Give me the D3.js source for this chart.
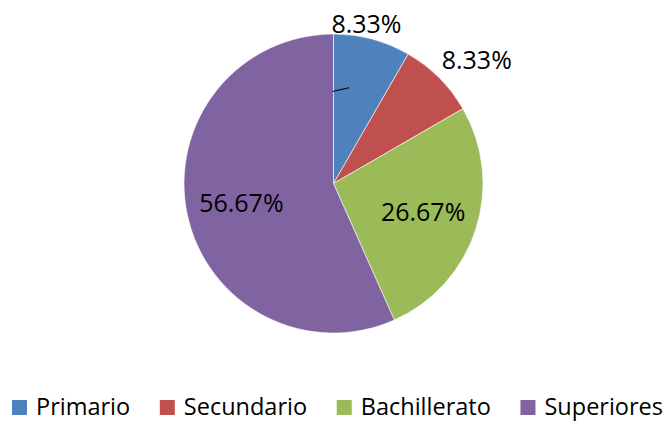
<!DOCTYPE html>
<html>
<head>
<meta charset="utf-8">
<script src="https://cdn.jsdelivr.net/npm/d3@7"></script>
<style>
  body { margin: 0; background: #fff; }
  svg { display: block; font-family: "Open Sans", sans-serif; }
</style>
</head>
<body>
<svg id="chart" width="667" height="421"></svg>
<script>
// data
const categories = ["Primario", "Secundario", "Bachillerato", "Superiores"];
const values = [8.33, 8.33, 26.67, 56.67];
const labels = ["8.33%", "8.33%", "26.67%", "56.67%"];
const colors = ["#4F81BD", "#C0504D", "#9BBB59", "#8064A2"];

const svg = d3.select("#chart");
const cx = 333.5, cy = 183.5, radius = 149.5;

const g = svg.append("g").attr("transform", "translate(" + cx + "," + cy + ")");

const pie = d3.pie().sort(null).value(d => d.value);
const arcs = pie(categories.map((c, i) => ({ name: c, value: values[i], label: labels[i] })));

const arc = d3.arc().innerRadius(0).outerRadius(radius);
const color = d3.scaleOrdinal().domain(categories).range(colors);

g.selectAll("path")
  .data(arcs)
  .enter().append("path")
  .attr("d", arc)
  .attr("fill", d => color(d.data.name))
  .attr("stroke", "#fff")
  .attr("stroke-width", 0.6);

// label placement: small slices outside, big ones inside
const inArc = d3.arc().innerRadius(radius * 0.63).outerRadius(radius * 0.63);
const outArcs = [
  d3.arc().innerRadius(170).outerRadius(170),
  d3.arc().innerRadius(180).outerRadius(180)
];
const outShift = [[-11, 5], [16, 4]];

function labelPos(d, i) {
  if (d.data.value < 10) {
    const c = outArcs[i].centroid(d);
    return [c[0] + outShift[i][0], c[1] + outShift[i][1]];
  }
  return inArc.centroid(d);
}

// leader line of the first label (short stub inside the slice)
const first = arcs[0];
const a0 = first.startAngle - 0.01, a1 = first.startAngle + 0.16;
g.append("line")
  .attr("x1", 92 * Math.sin(a0)).attr("y1", -92 * Math.cos(a0))
  .attr("x2", 97 * Math.sin(a1)).attr("y2", -97 * Math.cos(a1))
  .attr("stroke", "#000")
  .attr("stroke-width", 1.2);

g.selectAll("text.lbl")
  .data(arcs)
  .enter().append("text")
  .attr("class", "lbl")
  .attr("transform", (d, i) => "translate(" + labelPos(d, i) + ")")
  .attr("text-anchor", "middle")
  .attr("dy", "0.35em")
  .attr("font-size", 25)
  .attr("fill", "#000")
  .text(d => d.data.label);

// legend, spread from x=12 to x=663
const legend = svg.append("g").attr("transform", "translate(12,400)");
const items = legend.selectAll("g")
  .data(categories)
  .enter().append("g");

items.append("rect")
  .attr("width", 15)
  .attr("height", 15)
  .attr("fill", d => color(d));

items.append("text")
  .attr("x", 24)
  .attr("y", 14.5)
  .attr("font-size", 23.5)
  .attr("fill", "#000")
  .text(d => d);

const widths = [];
items.each(function () { widths.push(24 + d3.select(this).select("text").node().getComputedTextLength()); });
const gap = (651 - d3.sum(widths)) / (widths.length - 1);
let x = 0;
items.each(function (d, i) {
  d3.select(this).attr("transform", "translate(" + x + ",0)");
  x += widths[i] + gap;
});
</script>
</body>
</html>
